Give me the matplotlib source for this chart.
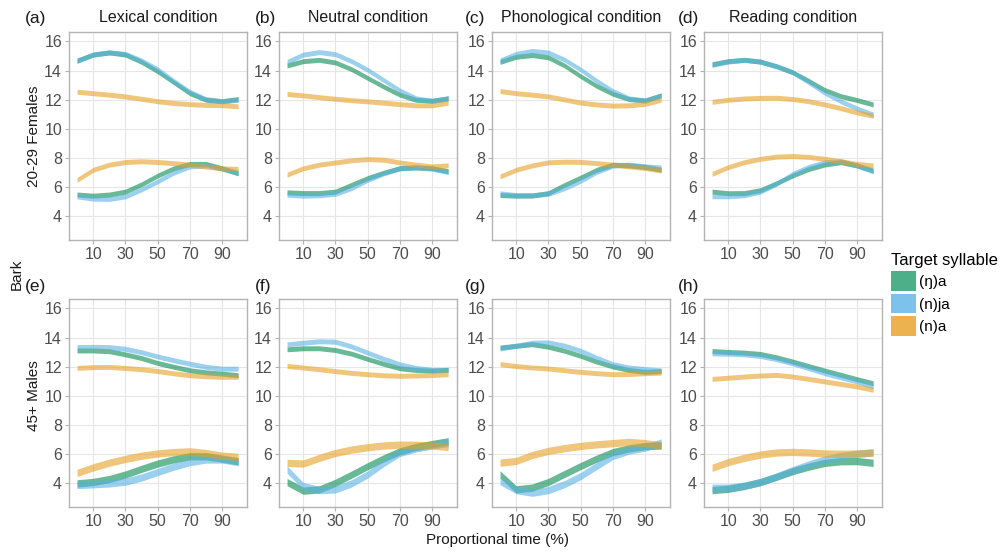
import matplotlib
matplotlib.use("Agg")
import matplotlib.pyplot as plt
from matplotlib.patches import Patch

plt.rcParams['font.family'] = ['Liberation Sans', 'DejaVu Sans']

# proportional time points (%)
time = [0, 10, 20, 30, 40, 50, 60, 70, 80, 90, 100]

conditions = ["Lexical condition", "Neutral condition", "Phonological condition", "Reading condition"]
groups = ["20-29 Females", "45+ Males"]
syllables = ["(ŋ)a", "(n)ja", "(n)a"]
tags = ["(a)", "(b)", "(c)", "(d)", "(e)", "(f)", "(g)", "(h)"]

# upper trajectories (F2) per panel, order: (ŋ)a, (n)ja, (n)a
f2_a = [[14.7, 15.1, 15.25, 15.1, 14.6, 13.95, 13.2, 12.45, 12.0, 11.9, 12.05],
        [14.65, 15.1, 15.25, 15.15, 14.7, 14.1, 13.3, 12.55, 12.05, 11.9, 12.0],
        [12.55, 12.45, 12.35, 12.23, 12.07, 11.9, 11.78, 11.7, 11.65, 11.63, 11.55]]
f2_b = [[14.35, 14.65, 14.74, 14.56, 14.1, 13.5, 12.9, 12.35, 12.0, 11.93, 12.1],
        [14.6, 15.1, 15.27, 15.13, 14.65, 14.06, 13.35, 12.64, 12.1, 11.93, 12.1],
        [12.4, 12.3, 12.18, 12.07, 11.97, 11.89, 11.8, 11.7, 11.62, 11.62, 11.8]]
f2_c = [[14.6, 14.95, 15.07, 14.91, 14.35, 13.62, 12.95, 12.41, 12.05, 11.95, 12.3],
        [14.7, 15.15, 15.35, 15.24, 14.75, 14.08, 13.3, 12.6, 12.1, 11.95, 12.3],
        [12.6, 12.45, 12.35, 12.23, 12.02, 11.81, 11.68, 11.6, 11.62, 11.72, 12.0]]
f2_d = [[14.44, 14.65, 14.74, 14.62, 14.3, 13.89, 13.3, 12.67, 12.25, 11.98, 11.68],
        [14.39, 14.62, 14.74, 14.62, 14.3, 13.89, 13.2, 12.48, 11.9, 11.4, 10.99],
        [11.86, 12.0, 12.09, 12.13, 12.14, 12.05, 11.9, 11.68, 11.42, 11.13, 10.9]]
f2_e = [[13.12, 13.12, 13.07, 12.85, 12.6, 12.26, 12.0, 11.76, 11.62, 11.53, 11.42],
        [13.35, 13.37, 13.35, 13.23, 13.0, 12.71, 12.45, 12.21, 12.0, 11.87, 11.87],
        [11.92, 11.98, 11.99, 11.92, 11.83, 11.71, 11.55, 11.42, 11.35, 11.31, 11.31]]
f2_f = [[13.2, 13.27, 13.27, 13.15, 12.9, 12.54, 12.2, 11.9, 11.78, 11.74, 11.79],
        [13.54, 13.65, 13.75, 13.72, 13.4, 12.97, 12.55, 12.17, 11.92, 11.79, 11.79],
        [12.06, 11.95, 11.83, 11.7, 11.58, 11.49, 11.42, 11.38, 11.4, 11.44, 11.49]]
f2_g = [[13.32, 13.44, 13.55, 13.37, 13.1, 12.75, 12.35, 12.02, 11.78, 11.65, 11.7],
        [13.25, 13.44, 13.65, 13.67, 13.45, 13.1, 12.62, 12.18, 11.95, 11.84, 11.75],
        [12.18, 12.05, 11.95, 11.88, 11.76, 11.65, 11.56, 11.49, 11.5, 11.56, 11.6]]
f2_h = [[13.08, 13.02, 12.97, 12.88, 12.65, 12.36, 12.05, 11.74, 11.45, 11.15, 10.87],
        [12.92, 12.9, 12.85, 12.74, 12.52, 12.24, 11.9, 11.56, 11.27, 10.99, 10.65],
        [11.17, 11.25, 11.33, 11.4, 11.44, 11.33, 11.17, 10.99, 10.82, 10.65, 10.42]]

# lower trajectories (F1) per panel
f1_a = [[5.5, 5.42, 5.5, 5.7, 6.2, 6.8, 7.3, 7.6, 7.6, 7.3, 6.95],
        [5.37, 5.22, 5.2, 5.37, 5.85, 6.4, 7.0, 7.43, 7.5, 7.27, 7.0],
        [6.5, 7.2, 7.55, 7.73, 7.78, 7.73, 7.65, 7.55, 7.42, 7.3, 7.25]]
f1_b = [[5.65, 5.6, 5.6, 5.7, 6.17, 6.63, 7.0, 7.31, 7.36, 7.31, 7.1],
        [5.49, 5.42, 5.45, 5.55, 5.94, 6.5, 6.95, 7.29, 7.36, 7.27, 7.04],
        [6.86, 7.3, 7.55, 7.7, 7.85, 7.93, 7.89, 7.7, 7.55, 7.43, 7.5]]
f1_c = [[5.46, 5.42, 5.43, 5.6, 6.16, 6.67, 7.2, 7.55, 7.5, 7.39, 7.2],
        [5.58, 5.46, 5.45, 5.55, 5.93, 6.44, 7.05, 7.48, 7.55, 7.44, 7.35],
        [6.74, 7.2, 7.5, 7.71, 7.75, 7.74, 7.65, 7.55, 7.43, 7.32, 7.15]]
f1_d = [[5.7, 5.59, 5.6, 5.8, 6.28, 6.8, 7.25, 7.56, 7.72, 7.49, 7.15],
        [5.38, 5.38, 5.45, 5.7, 6.23, 6.92, 7.4, 7.72, 7.79, 7.49, 7.08],
        [6.92, 7.38, 7.72, 7.95, 8.1, 8.14, 8.08, 7.95, 7.78, 7.6, 7.49]]
f1_e = [[4.0, 4.1, 4.3, 4.61, 5.0, 5.36, 5.65, 5.86, 5.86, 5.7, 5.52],
        [3.89, 3.94, 4.0, 4.12, 4.4, 4.78, 5.15, 5.46, 5.64, 5.64, 5.46],
        [4.72, 5.1, 5.42, 5.68, 5.9, 6.05, 6.15, 6.2, 6.08, 5.9, 5.82]]
f1_f = [[4.09, 3.5, 3.59, 4.04, 4.6, 5.18, 5.72, 6.2, 6.5, 6.7, 6.89],
        [4.95, 3.82, 3.54, 3.59, 4.0, 4.61, 5.4, 6.09, 6.4, 6.6, 6.77],
        [5.41, 5.36, 5.75, 6.09, 6.32, 6.48, 6.6, 6.66, 6.65, 6.6, 6.5]]
f1_g = [[4.62, 3.59, 3.71, 4.1, 4.65, 5.19, 5.7, 6.15, 6.4, 6.56, 6.6],
        [4.16, 3.54, 3.36, 3.54, 3.95, 4.5, 5.2, 5.88, 6.25, 6.45, 6.8],
        [5.42, 5.54, 5.95, 6.23, 6.42, 6.57, 6.68, 6.76, 6.85, 6.76, 6.6]]
f1_h = [[3.54, 3.63, 3.82, 4.09, 4.45, 4.84, 5.15, 5.41, 5.52, 5.53, 5.41],
        [3.7, 3.7, 3.85, 4.09, 4.48, 4.91, 5.3, 5.64, 5.88, 6.03, 6.14],
        [5.07, 5.46, 5.75, 5.98, 6.12, 6.16, 6.12, 6.05, 6.03, 6.05, 6.1]]

f2_all = [f2_a, f2_b, f2_c, f2_d, f2_e, f2_f, f2_g, f2_h]
f1_all = [f1_a, f1_b, f1_c, f1_d, f1_e, f1_f, f1_g, f1_h]

ribbon_colors = ["#058A50", "#58B1E3", "#E6A026"]
key_colors = ["#4DAF89", "#7DC2EA", "#EBB24F"]

W, H = 1002, 557
fig = plt.figure(figsize=(W / 100, H / 100), dpi=100)

lefts = [69, 279, 492, 704]
tops = [32, 299]
aw, ah = 178, 208

for i in range(8):
    r, c = divmod(i, 4)
    ax = fig.add_axes([lefts[c] / W, 1 - (tops[r] + ah) / H, aw / W, ah / H])
    ax.set_facecolor("white")
    ax.grid(True, color="#E6E6E6", linewidth=0.8)
    ax.set_axisbelow(True)
    for sp in ax.spines.values():
        sp.set_color("#B3B3B3")
        sp.set_linewidth(1.0)
    for k in range(3):
        # ribbon half widths: bottom row F1 bands are wider
        for series, hw in ((f2_all[i][k], 0.17), (f1_all[i][k], 0.17 if r == 0 else 0.25)):
            lo = [v - hw for v in series]
            hi = [v + hw for v in series]
            ax.fill_between(time, lo, hi, color=ribbon_colors[k], alpha=0.6,
                            linewidth=0)
    ax.set_xlim(-5, 105.5)
    ax.set_ylim(2.38, 16.65)
    ax.set_xticks([10, 30, 50, 70, 90])
    ax.set_yticks([4, 6, 8, 10, 12, 14, 16])
    ax.tick_params(colors="#B3B3B3", labelcolor="#4D4D4D", labelsize=11.5,
                   length=3, width=0.8, pad=2)
    if r == 0:
        ax.set_title(conditions[c], fontsize=11.5, color="#1A1A1A", pad=7)
    tag_x = [25, 255, 465, 678][c]
    tag_y = [18, 286][r]
    fig.text(tag_x / W, 1 - tag_y / H, tags[i], fontsize=12.5, color="#1A1A1A",
             ha="left", va="center")

fig.text(34 / W, 1 - 136 / H, groups[0], rotation=90, fontsize=11,
         ha="center", va="center", color="#1A1A1A")
fig.text(34 / W, 1 - 396 / H, groups[1], rotation=90, fontsize=11,
         ha="center", va="center", color="#1A1A1A")
fig.text(17 / W, 1 - 274 / H, "Bark", rotation=90, fontsize=11,
         ha="center", va="center", color="#1A1A1A")
fig.text(498 / W, 1 - 540 / H, "Proportional time (%)", fontsize=11,
         ha="center", va="center", color="#1A1A1A")

handles = [Patch(facecolor=key_colors[k], edgecolor="none", label=syllables[k]) for k in range(3)]
leg = fig.legend(handles=handles, title="Target syllable", loc="upper left",
                 bbox_to_anchor=(888 / W, 1 - 250 / H), frameon=False,
                 fontsize=11, title_fontsize=12, handlelength=1.6, handleheight=1.6,
                 handletextpad=0.25, labelspacing=0.2, borderaxespad=0, borderpad=0.2)
leg._legend_box.align = "left"

fig.savefig("out.png", dpi=100)
